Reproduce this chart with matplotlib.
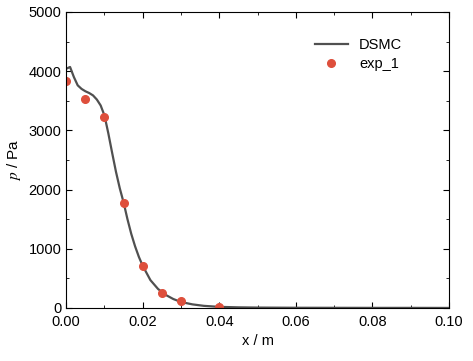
import numpy as np
import matplotlib
matplotlib.use("Agg")
import matplotlib.pyplot as plt
from matplotlib.ticker import MultipleLocator

plt.rcParams["font.family"] = ["Liberation Sans", "DejaVu Sans"]
plt.rcParams["mathtext.fontset"] = "stix"

# DSMC curve
x_dsmc = [0, 0.001, 0.002, 0.003, 0.004, 0.005, 0.006, 0.007, 0.008, 0.009,
          0.010, 0.011, 0.012, 0.013, 0.014, 0.015, 0.016, 0.017, 0.018, 0.019,
          0.020, 0.022, 0.024, 0.026, 0.028, 0.030, 0.033, 0.036, 0.040, 0.045,
          0.050, 0.060, 0.070, 0.080, 0.090, 0.100]
p_dsmc = [4040, 4070, 3900, 3760, 3700, 3660, 3630, 3590, 3520, 3420,
          3250, 2950, 2620, 2300, 2020, 1780, 1500, 1250, 1040, 860,
          710, 470, 320, 220, 150, 100, 60, 35, 18, 10,
          6, 3, 2, 1, 1, 0]

# experiment
x_exp = [0.0, 0.005, 0.010, 0.015, 0.020, 0.025, 0.030, 0.040]
p_exp = [3830, 3530, 3220, 1780, 700, 260, 120, 20]

fig = plt.figure(figsize=(4.73, 3.61), dpi=100)
ax = fig.add_axes([0.14, 0.147, 0.809, 0.82])

ax.plot(x_dsmc, p_dsmc, color="#505050", lw=1.6, label="DSMC")
ax.plot(x_exp, p_exp, "o", color="#de4f3c", ms=5.5, mec="#de4f3c", label="exp_1")

ax.set_xlim(0, 0.10)
ax.set_ylim(0, 5000)
ax.xaxis.set_major_locator(MultipleLocator(0.02))
ax.xaxis.set_minor_locator(MultipleLocator(0.01))
ax.yaxis.set_major_locator(MultipleLocator(1000))
ax.yaxis.set_minor_locator(MultipleLocator(500))
ax.xaxis.set_major_formatter(matplotlib.ticker.FormatStrFormatter("%.2f"))
ax.tick_params(which="both", direction="in", top=True, right=True, labelsize=10.5)
ax.tick_params(which="major", length=4)
ax.tick_params(which="minor", length=2.5)
ax.tick_params(axis="x", pad=5)

ax.set_xlabel("x / m", fontsize=10.5)
ax.set_ylabel("$p$ / Pa", fontsize=11)

ax.legend(loc="upper right", frameon=False, fontsize=10.5,
          bbox_to_anchor=(0.905, 0.945), handlelength=2.2, borderaxespad=0.3,
          labelspacing=0.3)

plt.savefig("out.png", dpi=100)
